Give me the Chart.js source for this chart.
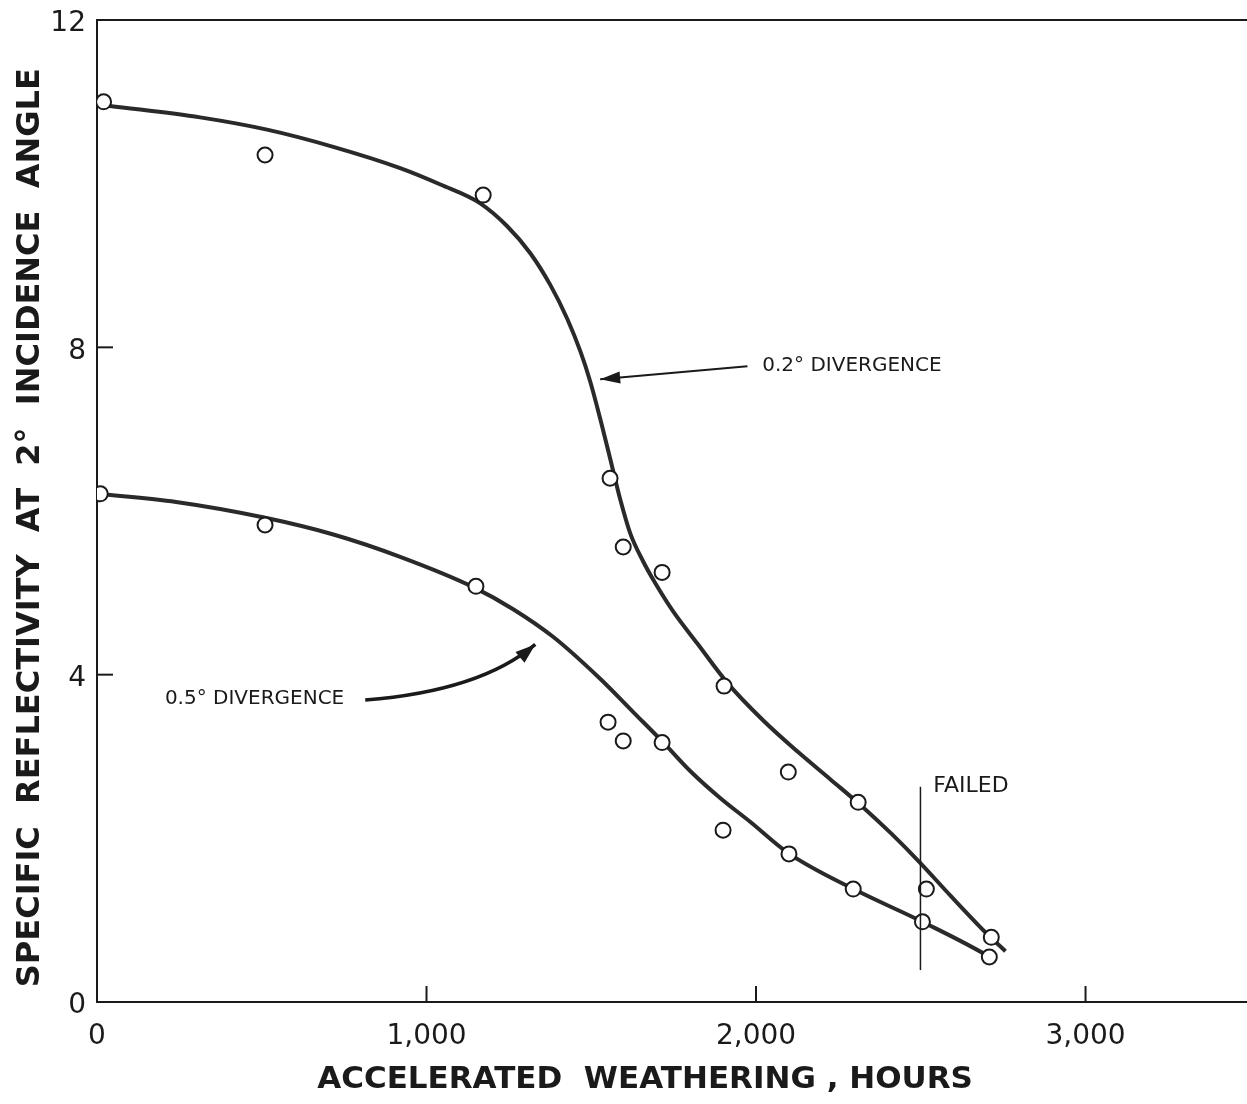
<!DOCTYPE html>
<html>
<head>
<meta charset="utf-8">
<script src="https://cdn.jsdelivr.net/npm/chart.js@4.4.1/dist/chart.umd.min.js"></script>
<style>
  html, body { margin: 0; padding: 0; background: #fff; overflow: hidden; }
  #wrap { width: 1247px; height: 1104px; }
</style>
</head>
<body>
<div id="wrap"><canvas id="chart" width="1247" height="1104"></canvas></div>
<script>
// --- data (hours, specific reflectivity) ---
const pts02X = [20, 510, 1172, 1557, 1597, 1715, 1903, 2098, 2310, 2517, 2714];
const pts02Y = [11.0, 10.35, 9.86, 6.40, 5.56, 5.25, 3.86, 2.81, 2.44, 1.38, 0.79];
const pts05X = [10, 510, 1150, 1551, 1597, 1715, 1900, 2100, 2295, 2505, 2708];
const pts05Y = [6.21, 5.83, 5.08, 3.42, 3.19, 3.17, 2.10, 1.81, 1.38, 0.98, 0.55];

// hand-drawn fitted curves
const curve02X = [0, 39, 313, 516, 717, 920, 1042, 1163, 1245, 1315, 1376, 1427, 1467, 1497, 1527, 1558, 1588, 1618, 1658, 1694, 1749, 1822, 1913, 2022, 2126, 2226, 2322, 2410, 2496, 2590, 2699, 2757];
const curve02Y = [10.97, 10.95, 10.81, 10.66, 10.45, 10.19, 9.99, 9.76, 9.48, 9.15, 8.76, 8.35, 7.95, 7.58, 7.13, 6.63, 6.14, 5.73, 5.38, 5.12, 4.77, 4.38, 3.90, 3.44, 3.06, 2.72, 2.39, 2.06, 1.71, 1.30, 0.84, 0.62];
const curve05X = [0, 240, 507, 720, 920, 1142, 1263, 1385, 1527, 1628, 1719, 1801, 1892, 1983, 2098, 2296, 2505, 2709, 2720];
const curve05Y = [6.21, 6.11, 5.92, 5.71, 5.44, 5.07, 4.80, 4.46, 3.95, 3.54, 3.17, 2.82, 2.49, 2.20, 1.82, 1.38, 0.98, 0.55, 0.52];

const xTicks = [0, 1000, 2000, 3000];
const xTickLabels = ["0", "1,000", "2,000", "3,000"];
const yTicks = [0, 4, 8, 12];
const yTickLabels = ["0", "4", "8", "12"];

const failedAt = 2499;

function toXY(xs, ys) {
  return xs.map((x, i) => ({ x: x, y: ys[i] }));
}

const INK = "#1a1a1a";
const FONT = "'DejaVu Sans', 'Liberation Sans', sans-serif";

// --- annotations: arrows, labels, failed line, inward ticks, top frame ---
const notes = {
  id: "notes",
  afterDraw(chart) {
    const { ctx, chartArea } = chart;
    const sx = chart.scales.x, sy = chart.scales.y;
    const px = v => sx.getPixelForValue(v);
    const py = v => sy.getPixelForValue(v);
    ctx.save();
    ctx.strokeStyle = INK;
    ctx.fillStyle = INK;

    // top frame line
    ctx.lineWidth = 2;
    ctx.beginPath();
    ctx.moveTo(chartArea.left, chartArea.top);
    ctx.lineTo(chartArea.right, chartArea.top);
    ctx.stroke();

    // inward tick marks
    xTicks.slice(1).forEach(v => {
      ctx.beginPath();
      ctx.moveTo(px(v), chartArea.bottom);
      ctx.lineTo(px(v), chartArea.bottom - 16);
      ctx.stroke();
    });
    yTicks.slice(1, -1).forEach(v => {
      ctx.beginPath();
      ctx.moveTo(chartArea.left, py(v));
      ctx.lineTo(chartArea.left + 16, py(v));
      ctx.stroke();
    });

    // FAILED marker
    ctx.lineWidth = 1.5;
    ctx.beginPath();
    ctx.moveTo(px(failedAt), py(2.63));
    ctx.lineTo(px(failedAt), py(0.39));
    ctx.stroke();

    ctx.textBaseline = "middle";
    ctx.textAlign = "left";
    ctx.font = "22px " + FONT;
    ctx.fillText("FAILED", px(2538), py(2.63));
    ctx.font = "20px " + FONT;
    ctx.fillText("0.2° DIVERGENCE", px(2019), py(7.78));
    ctx.fillText("0.5° DIVERGENCE", px(206), py(3.71));

    // straight arrow for 0.2
    const t0 = { x: px(1974), y: py(7.77) }, t1 = { x: px(1527), y: py(7.61) };
    ctx.lineWidth = 2;
    ctx.beginPath();
    ctx.moveTo(t0.x, t0.y);
    ctx.lineTo(t1.x, t1.y);
    ctx.stroke();
    arrowHead(ctx, t0, t1, 20, 6);

    // curved arrow for 0.5
    const c0 = { x: px(814), y: py(3.69) };
    const cc = { x: px(1163), y: py(3.80) };
    const c1 = { x: px(1330), y: py(4.37) };
    ctx.lineWidth = 3.5;
    ctx.beginPath();
    ctx.moveTo(c0.x, c0.y);
    ctx.quadraticCurveTo(cc.x, cc.y, c1.x, c1.y);
    ctx.stroke();
    arrowHead(ctx, cc, c1, 20, 7);

    ctx.restore();
  }
};

function arrowHead(ctx, from, tip, len, half) {
  const a = Math.atan2(tip.y - from.y, tip.x - from.x);
  ctx.beginPath();
  ctx.moveTo(tip.x, tip.y);
  ctx.lineTo(tip.x - len * Math.cos(a) + half * Math.sin(a), tip.y - len * Math.sin(a) - half * Math.cos(a));
  ctx.lineTo(tip.x - len * Math.cos(a) - half * Math.sin(a), tip.y - len * Math.sin(a) + half * Math.cos(a));
  ctx.closePath();
  ctx.fill();
}

const ctx = document.getElementById("chart").getContext("2d");
const chart = new Chart(ctx, {
  type: "scatter",
  data: {
    datasets: [
      {
        label: "0.2° points",
        data: toXY(pts02X, pts02Y),
        pointRadius: 7.5,
        pointBorderWidth: 2,
        pointBorderColor: INK,
        pointBackgroundColor: "#fff",
        showLine: false
      },
      {
        label: "0.5° points",
        data: toXY(pts05X, pts05Y),
        pointRadius: 7.5,
        pointBorderWidth: 2,
        pointBorderColor: INK,
        pointBackgroundColor: "#fff",
        showLine: false
      },
      {
        label: "0.2° divergence",
        data: toXY(curve02X, curve02Y),
        showLine: true,
        pointRadius: 0,
        borderColor: "#2a2a2a",
        borderWidth: 4,
        cubicInterpolationMode: "monotone"
      },
      {
        label: "0.5° divergence",
        data: toXY(curve05X, curve05Y),
        showLine: true,
        pointRadius: 0,
        borderColor: "#2a2a2a",
        borderWidth: 4,
        cubicInterpolationMode: "monotone"
      }
    ]
  },
  options: {
    responsive: false,
    animation: false,
    layout: { autoPadding: false, padding: { top: 20, right: 0, left: 0, bottom: 0 } },
    plugins: {
      legend: { display: false },
      tooltip: { enabled: false }
    },
    scales: {
      x: {
        type: "linear",
        min: 0,
        max: 3490,
        afterFit: s => { s.height = 102; s.paddingLeft = 0; s.paddingRight = 0; },
        afterBuildTicks: s => { s.ticks = xTicks.map(v => ({ value: v })); },
        grid: { display: true, drawOnChartArea: false, drawTicks: false },
        border: { display: true, color: INK, width: 2 },
        ticks: {
          padding: 18,
          color: INK,
          font: { family: FONT, size: 28 },
          maxRotation: 0,
          callback: v => xTickLabels[xTicks.indexOf(v)]
        },
        title: {
          display: true,
          text: "ACCELERATED  WEATHERING , HOURS     ",
          color: INK,
          font: { family: FONT, size: 31, weight: "bold" },
          padding: { top: 0, bottom: 5 }
        }
      },
      y: {
        type: "linear",
        min: 0,
        max: 12,
        afterFit: s => { s.width = 97; s.paddingTop = 0; s.paddingBottom = 0; },
        afterBuildTicks: s => { s.ticks = yTicks.map(v => ({ value: v })); },
        grid: { display: true, drawOnChartArea: false, drawTicks: false },
        border: { display: true, color: INK, width: 2 },
        ticks: {
          padding: 11,
          labelOffset: 4,
          color: INK,
          font: { family: FONT, size: 28 },
          callback: v => yTickLabels[yTicks.indexOf(v)]
        },
        title: {
          display: true,
          text: "SPECIFIC  REFLECTIVITY  AT  2°  INCIDENCE  ANGLE   ",
          color: INK,
          font: { family: FONT, size: 32, weight: "bold" },
          padding: { top: 11, bottom: 0 }
        }
      }
    }
  },
  plugins: [notes]
});
</script>
</body>
</html>
